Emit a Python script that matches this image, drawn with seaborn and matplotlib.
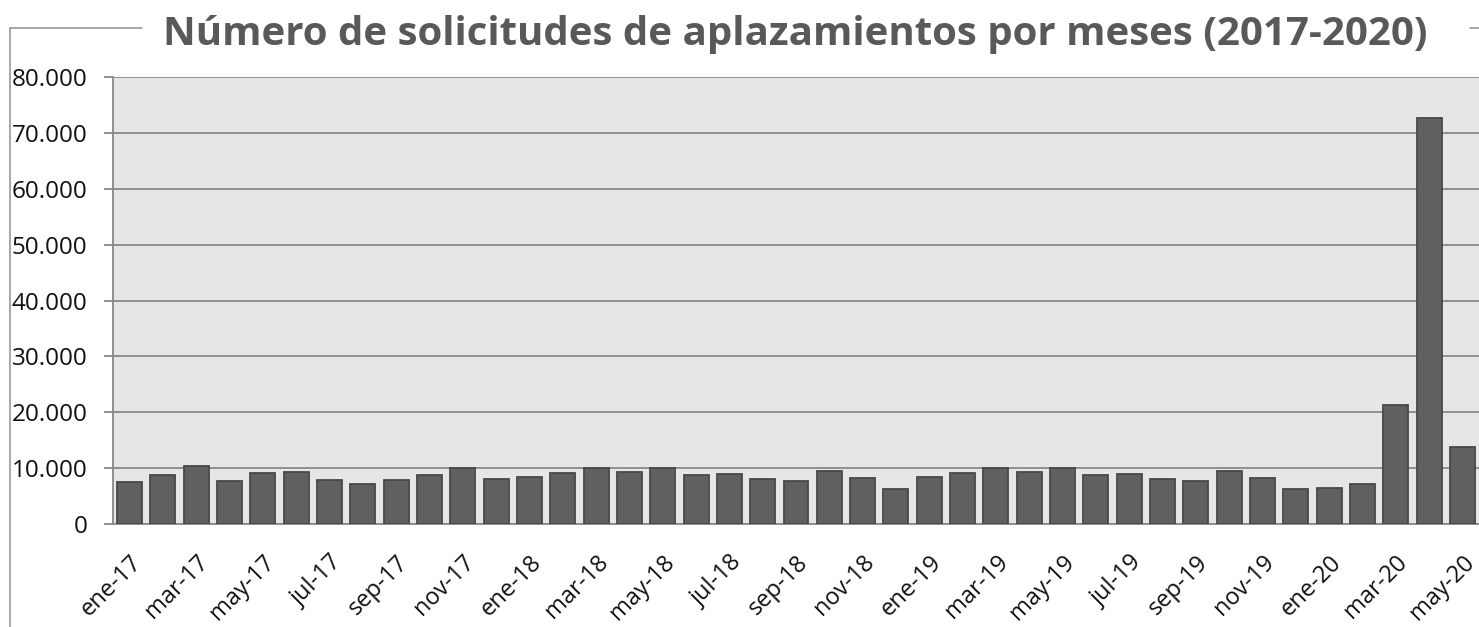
import matplotlib.pyplot as plt
import pandas as pd
import seaborn as sns
from matplotlib.lines import Line2D
from matplotlib.ticker import FuncFormatter, FixedLocator


MONTHS = ["ene", "feb", "mar", "abr", "may", "jun", "jul", "ago", "sep", "oct", "nov", "dic"]
YEARS = ["17", "18", "19", "20"]

# solicitudes de aplazamiento por mes, ene-17 .. may-20
values_2017 = [7600, 8700, 10400, 7700, 9050, 9300, 7900, 7200, 7850, 8700, 9950, 8000]
values_2018 = [8500, 9150, 9950, 9300, 10000, 8850, 9000, 8100, 7750, 9500, 8200, 6300]
values_2019 = [8500, 9150, 9950, 9300, 10050, 8800, 8950, 8100, 7750, 9500, 8200, 6300]
values_2020 = [6450, 7100, 21350, 72700, 13850]

TITLE = "Número de solicitudes de aplazamientos por meses (2017-2020)"


def main() -> None:
    months = [f"{m}-{y}" for y in YEARS for m in MONTHS][:41]
    values = values_2017 + values_2018 + values_2019 + values_2020
    df = pd.DataFrame({"mes": months, "solicitudes": values})

    sns.set_theme(style="white")
    plt.rcParams["font.family"] = ["Open Sans", "DejaVu Sans"]

    fig = plt.figure(figsize=(14.79, 6.27), dpi=100)
    ax = fig.add_axes([113 / 1479, 103 / 627, 1366 / 1479, 447 / 627])
    ax.set_facecolor("#e6e6e6")

    sns.barplot(
        data=df, x="mes", y="solicitudes", color="#606060", saturation=1,
        width=0.75, edgecolor="#484848", linewidth=1.3, ax=ax, zorder=3,
    )

    ax.set_xlim(-0.5, len(df) - 0.5)
    ax.set_ylim(0, 80000)
    ax.set_yticks(range(0, 80001, 10000))
    ax.yaxis.set_major_formatter(FuncFormatter(lambda v, _: f"{int(v):,}".replace(",", ".")))
    ax.grid(axis="y", color="#888888", linewidth=1.3, zorder=0)
    ax.set_axisbelow(True)

    ax.set_xticks(range(0, len(df), 2))
    ax.set_xticklabels(df["mes"][::2], rotation=45, ha="right", va="top", rotation_mode="anchor")
    ax.xaxis.set_minor_locator(FixedLocator([i - 0.5 for i in range(0, len(df), 2)]))
    ax.tick_params(axis="x", which="major", length=0, pad=19, labelsize=17, labelcolor="#111111")
    ax.tick_params(axis="x", which="minor", length=7, width=1.3, color="#888888")
    ax.tick_params(axis="y", length=6.5, width=1.3, color="#888888", labelsize=17.5,
                   labelcolor="#111111", pad=12, left=True)
    ax.set_xlabel("")
    ax.set_ylabel("")

    for side in ["top", "right"]:
        ax.spines[side].set_visible(False)
    for side in ["left", "bottom"]:
        ax.spines[side].set_color("#888888")
        ax.spines[side].set_linewidth(1.3)

    # marco exterior del grafico
    frame = dict(color="#999999", linewidth=1.2, transform=fig.transFigure)
    y_top = 1 - 28 / 627
    fig.add_artist(Line2D([10 / 1479, 10 / 1479], [0, y_top], **frame))
    fig.add_artist(Line2D([10 / 1479, 142 / 1479], [y_top, y_top], **frame))
    fig.add_artist(Line2D([1470 / 1479, 1.0], [y_top, y_top], **frame))

    fig.text(795 / 1479, 1 - 45 / 627, TITLE, ha="center", va="baseline",
             fontsize=29, fontweight="bold", color="#595959")

    fig.savefig("out.png", dpi=100)
    plt.close(fig)


if __name__ == "__main__":
    main()
